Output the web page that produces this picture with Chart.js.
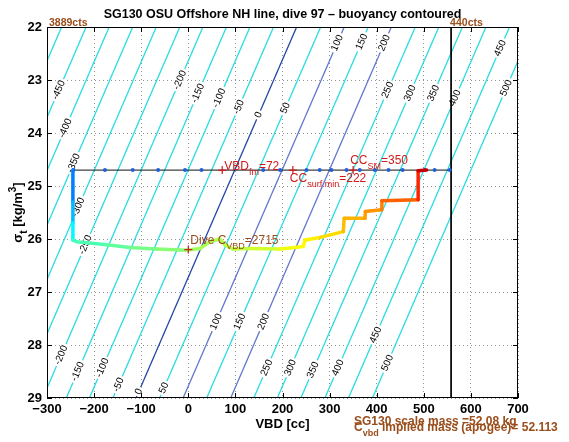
<!DOCTYPE html>
<html>
<head>
<meta charset="utf-8">
<script src="https://cdn.jsdelivr.net/npm/chart.js@4.4.1/dist/chart.umd.min.js"></script>
<style>
  html, body { margin: 0; padding: 0; background: #fff; }
  canvas { display: block; }
</style>
</head>
<body>
<canvas id="chart" width="569" height="442"></canvas>
<script>
// ---- data ----
const xTickLabels = ['\u2212300', '\u2212200', '\u2212100', '0', '100', '200', '300', '400', '500', '600', '700'];
const yTickValues = [22, 23, 24, 25, 26, 27, 28, 29];
const yTickLabels = ['22', '23', '24', '25', '26', '27', '28', '29'];

// buoyancy contours [g]: VBD where each line crosses sigma 22 and sigma 29
const contourLevels = [-500, -450, -400, -350, -300, -250, -200, -150, -100, -50, 0, 50, 100, 150, 200, 250, 300, 350, 400, 450, 500];
const contourVbdAt22 = [-269, -217, -168, -118, -68, -18, 31, 81, 131, 181, 230, 281, 331, 382, 431, 482, 532, 582, 632, 682, 731];
const contourVbdAt29 = [-609, -558, -509, -459, -409, -359, -309, -259, -210, -160, -111, -61, -11, 39, 90, 139, 189, 239, 290, 340, 391];
// sigma at which each contour carries its inline label
const contourLabelSigma = [
  [], [23.19], [23.91], [24.57], [25.40], [26.11],
  [23.00, 28.19], [23.25, 28.50], [23.34, 28.43], [23.51, 28.75], [23.66, 28.88], [23.53, 28.81],
  [22.30, 27.56], [22.28, 27.56], [22.30, 27.56], [23.19, 28.43], [23.25, 28.43], [23.25, 28.47],
  [23.34, 28.43], [22.40, 27.81], [23.15, 28.34]
];

// glider track (VBD, sigma) with fraction of dive time (colour)
const pathVbd   = [-245, -245, -245, -245, -237, -173, -124, -67, -3, 25, 46, 67, 78, 95, 131, 195, 226, 244, 248, 280, 329, 331, 375, 376, 410, 411, 488, 488, 506];
const pathSigma = [24.70, 25.30, 25.70, 26.02, 26.05, 26.11, 26.16, 26.19, 26.21, 26.18, 26.05, 26.00, 26.11, 26.19, 26.18, 26.19, 26.16, 26.14, 26.02, 25.97, 25.86, 25.61, 25.61, 25.48, 25.45, 25.28, 25.26, 24.71, 24.70];
const pathTime  = [0.25, 0.31, 0.37, 0.43, 0.45, 0.47, 0.49, 0.51, 0.53, 0.54, 0.545, 0.55, 0.555, 0.56, 0.58, 0.61, 0.62, 0.63, 0.64, 0.66, 0.69, 0.70, 0.72, 0.73, 0.75, 0.78, 0.84, 0.93, 0.96];

const surfaceSigma = 24.7;
const surfaceVbdStart = -245;
const surfaceDotVbd = [-244, -177, -118, -64, -7, 28, 159, 195, 251, 279, 304, 336, 364, 396, 425, 455, 502, 523, 555];

const countsVbd = [-300, 558];
const countsLabels = ['3889cts', '440cts'];

const markerNames = ['VBD_fm', 'CC_surf min', 'CC_SM'];
const markerVbd = [72, 222, 350];
const diveCvbd = 2715;
const diveCvbdAt = [0, 26.2];

const scaleMass = 52.08;
const impliedMass = 52.113;

// ---- helpers ----
const FONT = '"Liberation Sans", Arial, Helvetica, sans-serif';
const RED = 'rgb(210,25,25)';
const BROWN = 'rgb(153,77,26)';

function jet(t) {
  const c = v => Math.round(Math.max(0, Math.min(1, v)) * 255);
  return 'rgb(' + c(1.5 - Math.abs(4 * t - 3)) + ',' + c(1.5 - Math.abs(4 * t - 2)) + ',' + c(1.5 - Math.abs(4 * t - 1)) + ')';
}

function contourColor(lv) {
  if (lv === 0) return '#2446a6';
  if (lv === 100 || lv === 200) return '#6476cc';
  return 'rgb(40,220,225)';
}

// parts: [text, shift] shift 0 normal, 1 subscript, -1 superscript
function richText(ctx, x, y, parts, size, weight, color, draw) {
  ctx.fillStyle = color;
  ctx.textAlign = 'left';
  ctx.textBaseline = 'alphabetic';
  let cx = x;
  for (const [txt, shift] of parts) {
    const s = shift ? Math.round(size * 0.75) : size;
    ctx.font = weight + ' ' + s + 'px ' + FONT;
    const dy = shift === 1 ? size * 0.42 : shift === -1 ? -size * 0.45 : 0;
    if (draw !== false) ctx.fillText(txt, cx, y + dy);
    cx += ctx.measureText(txt).width;
  }
  return cx - x;
}

function nameParts(name, value) {
  const [main, sub] = name.split('_');
  return [[main, 0], [sub, 1], ['=' + value, 0]];
}

// ---- datasets ----
const datasets = [];
contourLevels.forEach((lv, i) => {
  datasets.push({
    data: [{ x: contourVbdAt22[i], y: 22 }, { x: contourVbdAt29[i], y: 29 }],
    showLine: true, borderColor: contourColor(lv), borderWidth: 1.3,
    pointRadius: 0, order: 10, clip: 0
  });
});
datasets.push({
  data: [{ x: surfaceVbdStart, y: surfaceSigma }, { x: countsVbd[1], y: surfaceSigma }],
  showLine: true, borderColor: '#111', borderWidth: 1, pointRadius: 0, order: 6
});
datasets.push({
  data: [{ x: countsVbd[1], y: 22 }, { x: countsVbd[1], y: 29 }],
  showLine: true, borderColor: '#000', borderWidth: 1, pointRadius: 0, order: 6
});
datasets.push({
  data: surfaceDotVbd.map(v => ({ x: v, y: surfaceSigma })),
  showLine: false, pointRadius: 2, pointBackgroundColor: '#2160dd', pointBorderWidth: 0, order: 5
});
datasets.push({
  data: pathVbd.map((v, i) => ({ x: v, y: pathSigma[i] })),
  showLine: true, borderWidth: 3.5, pointRadius: 0, tension: 0,
  borderCapStyle: 'round', borderJoinStyle: 'round',
  borderColor: jet(0.5),
  segment: { borderColor: c => jet(pathTime[c.p0DataIndex]) },
  order: 2
});
datasets.push({
  data: markerVbd.map(v => ({ x: v, y: surfaceSigma })).concat([{ x: diveCvbdAt[0], y: diveCvbdAt[1] }]),
  showLine: false, pointStyle: 'cross', pointRadius: 4, borderColor: RED, borderWidth: 1.2, order: 1
});

// ---- drawing on top ----
const overlay = {
  id: 'overlay',
  afterDatasetDraw(chart, args) {
    if (args.index !== 0) return; // last contour drawn -> put inline labels
    const ctx = chart.ctx, xs = chart.scales.x, ys = chart.scales.y;
    ctx.save();
    ctx.font = '10px ' + FONT;
    ctx.textAlign = 'center';
    ctx.textBaseline = 'middle';
    contourLevels.forEach((lv, i) => {
      const xa = xs.getPixelForValue(contourVbdAt29[i]), ya = ys.getPixelForValue(29);
      const xb = xs.getPixelForValue(contourVbdAt22[i]), yb = ys.getPixelForValue(22);
      const ang = Math.atan2(yb - ya, xb - xa);
      contourLabelSigma[i].forEach(s => {
        const v = contourVbdAt22[i] + (contourVbdAt29[i] - contourVbdAt22[i]) * (s - 22) / 7;
        const px = xs.getPixelForValue(v), py = ys.getPixelForValue(s);
        const txt = String(lv);
        const w = ctx.measureText(txt).width;
        ctx.save();
        ctx.translate(px, py);
        ctx.rotate(ang);
        ctx.fillStyle = '#fff';
        ctx.fillRect(-w / 2 - 2, -3.5, w + 4, 7);
        ctx.fillStyle = '#000';
        ctx.fillText(txt, 0, 0);
        ctx.restore();
      });
    });
    ctx.restore();
  },
  afterDraw(chart) {
    const ctx = chart.ctx, xs = chart.scales.x, ys = chart.scales.y;
    const a = chart.chartArea;
    ctx.save();
    // frame + inward ticks
    ctx.strokeStyle = '#000';
    ctx.lineWidth = 1;
    ctx.strokeRect(a.left + 0.5, a.top + 0.5, a.right - a.left - 1, a.bottom - a.top - 1);
    ctx.beginPath();
    xs.ticks.forEach(t => {
      const x = Math.round(xs.getPixelForValue(t.value)) + 0.5;
      ctx.moveTo(x, a.bottom); ctx.lineTo(x, a.bottom - 5);
      ctx.moveTo(x, a.top); ctx.lineTo(x, a.top + 5);
    });
    ys.ticks.forEach(t => {
      const y = Math.round(ys.getPixelForValue(t.value)) + 0.5;
      ctx.moveTo(a.left, y); ctx.lineTo(a.left + 5, y);
      ctx.moveTo(a.right, y); ctx.lineTo(a.right - 5, y);
    });
    ctx.stroke();

    // title
    ctx.fillStyle = '#000';
    ctx.font = 'bold 12.5px ' + FONT;
    ctx.textAlign = 'center';
    ctx.textBaseline = 'alphabetic';
    ctx.fillText('SG130 OSU Offshore NH line, dive 97 \u2013 buoyancy contoured', (a.left + a.right) / 2, 17.5);

    // y axis title with subscript / superscript
    const yParts = [['\u03c3', 0], ['t', 1], [' [kg/m', 0], ['3', -1], [']', 0]];
    const yw = richText(ctx, 0, 0, yParts, 13, 'bold', '#000', false);
    ctx.save();
    ctx.translate(22, (a.top + a.bottom) / 2);
    ctx.rotate(-Math.PI / 2);
    richText(ctx, -yw / 2, 0, yParts, 13, 'bold', '#000');
    ctx.restore();

    // counts labels above the frame
    ctx.font = 'bold 10.5px ' + FONT;
    ctx.fillStyle = BROWN;
    ctx.textAlign = 'left';
    countsVbd.forEach((v, i) => {
      ctx.fillText(countsLabels[i], xs.getPixelForValue(v) + (i === 0 ? 2 : -1), 25.5);
    });

    // marker annotations
    const sy = ys.getPixelForValue(surfaceSigma);
    richText(ctx, xs.getPixelForValue(markerVbd[0]) + 2, sy, nameParts(markerNames[0], markerVbd[0]), 12, 'normal', RED);
    richText(ctx, xs.getPixelForValue(markerVbd[1]) - 3, sy + 11.5, nameParts(markerNames[1], markerVbd[1]), 12, 'normal', RED);
    richText(ctx, xs.getPixelForValue(markerVbd[2]) - 3, sy - 6.5, nameParts(markerNames[2], markerVbd[2]), 12, 'normal', RED);
    richText(ctx, xs.getPixelForValue(diveCvbdAt[0]) + 2, ys.getPixelForValue(diveCvbdAt[1]) - 5.5,
      [['Dive C', 0], ['VBD', 1], ['=' + diveCvbd, 0]], 12, 'normal', BROWN);

    // mass notes under the axis
    richText(ctx, 354, 425, [['SG130 scale mass =' + scaleMass.toFixed(2) + ' kg', 0]], 12, 'bold', BROWN);
    richText(ctx, 354, 431, [['C', 0], ['vbd', 1], [' implied mass (apogee)= ' + impliedMass.toFixed(3), 0]], 12, 'bold', BROWN);
    ctx.restore();
  }
};

const tickFont = { family: FONT, size: 13, weight: 'bold' };

new Chart(document.getElementById('chart'), {
  type: 'scatter',
  data: { datasets: datasets },
  options: {
    responsive: false,
    animation: false,
    events: [],
    layout: { padding: { top: 27, right: 51, left: 0, bottom: 0 } },
    plugins: {
      legend: { display: false },
      tooltip: { enabled: false },
      title: { display: false }
    },
    scales: {
      x: {
        type: 'linear', min: -300, max: 700,
        ticks: {
          stepSize: 100, autoSkip: false, maxRotation: 0, padding: 4,
          color: '#000', font: tickFont,
          callback: (v, i) => xTickLabels[i]
        },
        grid: { color: 'rgba(120,120,120,0.8)', lineWidth: 1, drawTicks: false },
        border: { display: false, dash: [1, 3] },
        title: { display: true, text: 'VBD [cc]', color: '#000', font: tickFont, padding: { top: 0, bottom: 10 } },
        afterFit: s => { s.height = 44; }
      },
      y: {
        type: 'linear', min: 22, max: 29, reverse: true,
        ticks: {
          stepSize: 1, autoSkip: false, padding: 5,
          color: '#000', font: tickFont,
          callback: v => yTickLabels[yTickValues.indexOf(Math.round(v))]
        },
        grid: { color: 'rgba(120,120,120,0.8)', lineWidth: 1, drawTicks: false },
        border: { display: false, dash: [1, 3] },
        afterFit: s => { s.width = 47; }
      }
    }
  },
  plugins: [overlay]
});
</script>
</body>
</html>
